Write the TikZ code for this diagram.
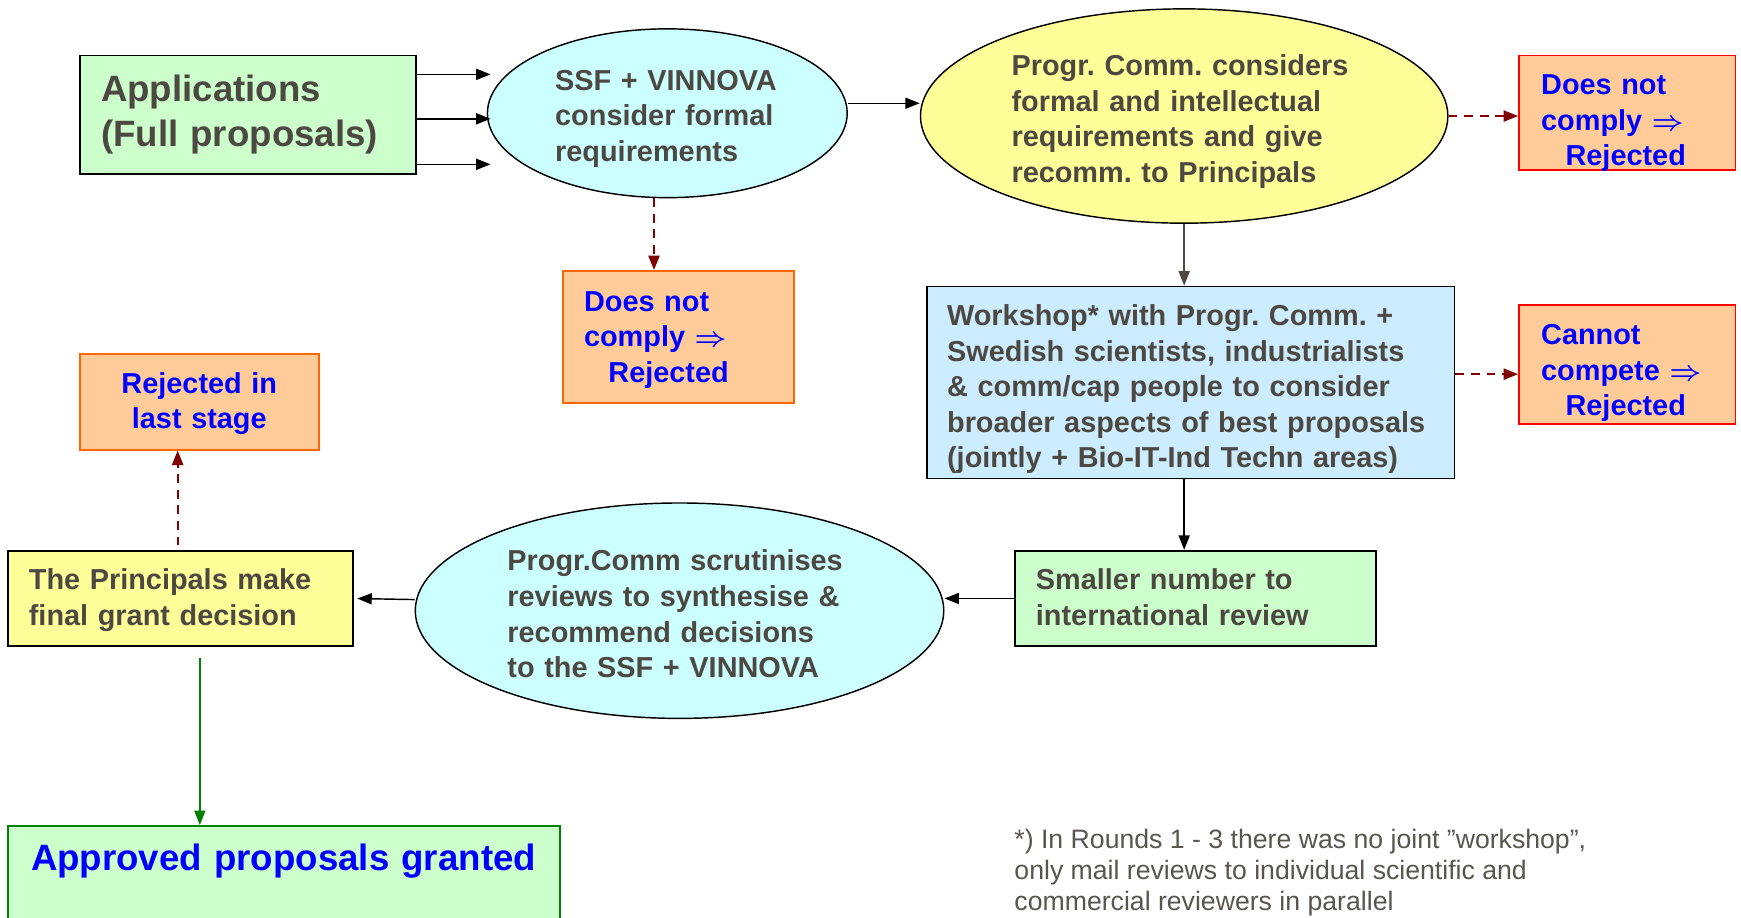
\documentclass[tikz,border=0pt]{standalone}
\usepackage{fontspec}
\setmainfont{Liberation Sans}
\usetikzlibrary{shapes,arrows.meta,calc}
\definecolor{ink}{RGB}{77,73,66}
\definecolor{note}{RGB}{89,85,80}
\definecolor{mint}{HTML}{CCFFCC}
\definecolor{aqua}{HTML}{CCFFFF}
\definecolor{lemon}{HTML}{FFFF99}
\definecolor{sky}{HTML}{CCECFF}
\definecolor{peach}{HTML}{FFCC99}
\definecolor{tangerine}{HTML}{FF6600}
\definecolor{maroon}{HTML}{800000}
\definecolor{leaf}{HTML}{008000}
\tikzstyle{bt} = [rectangle, draw, line width=1.6pt, text=ink, align=left,
    inner xsep=19pt, inner ysep=4pt, text height=25pt,
    font=\bfseries\fontsize{26}{32}\selectfont]
\tikzstyle{el} = [ellipse, draw, line width=1.3pt, fill=aqua, text=ink, align=left,
    inner sep=4pt, text height=25pt, font=\bfseries\fontsize{26}{32}\selectfont]
\tikzstyle{rej} = [bt, fill=peach, draw=red, text=blue,
    font=\bfseries\boldmath\fontsize{26}{32}\selectfont]
\tikzstyle{skip} = [->, maroon, line width=1.8pt, dash pattern=on 8pt off 6pt]

\begin{document}
\frenchspacing
\begin{tikzpicture}[x=1pt,y=1pt,>={Triangle[length=13pt,width=10pt]},line width=1.3pt]
  \useasboundingbox (0,0) rectangle (1568,-826);

  \node[bt, fill=mint, text width=265pt, minimum height=107pt, text height=30pt, text depth=54.8pt,
        font=\bfseries\fontsize{33}{41}\selectfont] (1) at (223.5,-103.5) {Applications\\(Full proposals)};
  \node[el, minimum width=324pt, minimum height=152pt, text width=202pt, text depth=66.5pt] (2) at (601,-102)
        {SSF + VINNOVA\\consider formal\\requirements};
  \node[el, fill=lemon, minimum width=475pt, minimum height=193pt, text width=311pt, text depth=97.5pt] (3)
        at (1066.5,-104.5) {Progr. Comm. considers\\formal and intellectual\\requirements and give\\recomm. to Principals};
  \node[rej, text width=155pt, minimum height=103pt, inner xsep=20pt, text depth=57.5pt] (4) at (1465.5,-101.5)
        {Does not\\comply $\Rightarrow$\\\hspace*{22pt}Rejected};
  \node[bt, fill=sky, text width=439pt, inner xsep=18pt, minimum height=173pt, text depth=127.5pt] (5)
        at (1072.5,-344.5) {Workshop* with Progr. Comm. +\\Swedish scientists, industrialists\\\& comm/cap people to consider\\broader aspects of best proposals\\(jointly + Bio-IT-Ind Techn areas)};
  \node[rej, text width=155pt, minimum height=107pt, inner xsep=20pt, text depth=61.5pt] (6) at (1465.5,-328.5)
        {Cannot\\compete $\Rightarrow$\\\hspace*{22pt}Rejected};
  \node[bt, fill=mint, text width=287pt, minimum height=86pt, text depth=40.5pt] (7) at (1076.5,-539)
        {Smaller number to\\international review};
  \node[el, minimum width=476pt, minimum height=194pt, text width=310pt, text depth=96.5pt] (8) at (612,-550)
        {Progr.Comm scrutinises\\reviews to synthesise \&\\recommend decisions\\to the SSF + VINNOVA};
  \node[bt, fill=lemon, text width=273pt, minimum height=86pt, text depth=40.5pt] (9) at (162.5,-539)
        {The Principals make\\final grant decision};
  \node[rej, draw=tangerine, text width=177pt, minimum height=86pt, align=center, text depth=40.5pt] (10)
        at (179.5,-362) {Rejected in\\last stage};
  \node[rej, draw=tangerine, text width=170pt, minimum height=119pt, text depth=71.5pt] (11) at (611,-303.5)
        {Does not\\comply $\Rightarrow$\\\hspace*{22pt}Rejected};
  \node[bt, fill=mint, draw=leaf, text=blue, anchor=north, text width=455pt, inner xsep=21pt,
        inner ysep=12pt, text height=28pt, text depth=80pt,
        font=\bfseries\fontsize{33}{41}\selectfont] (12) at (255.5,-743) {Approved proposals granted};
  \node[text=note, font=\fontsize{24}{28}\selectfont, align=left, anchor=north west, inner sep=0pt] (13)
        at (913,-746) {*) In Rounds 1 - 3 there was no joint ”workshop”,\\only mail reviews to individual scientific and\\commercial reviewers in parallel};

  \foreach \dy in {36.5,-3.5,-44.5}
    \draw[->] ([yshift=\dy pt]1.east) -- ++(66,0);
  \path ([yshift=9pt]2.east) edge[->] ([yshift=11.5pt]3.west)
        (3.south) edge[->, ink] (3.south |- 5.north)
        (3.south |- 5.south) edge[->] (3.south |- 7.north)
        (7.west) edge[->] (7.west -| 8.east)
        ([yshift=10pt]8.west) edge[->, shorten >=3pt] (9.east);

  \draw[skip] (3.east) -- (3.east -| 4.west);
  \draw[skip] ([yshift=7.5pt]5.east) -- ([yshift=-8.5pt]6.west);
  \draw[skip] ([xshift=-12pt]2.south) -- ([xshift=-22pt]11.north);
  \draw[skip] ([xshift=-2.5pt,yshift=4pt]9.north) -- ([xshift=-19.5pt]10.south);
  \draw[->, leaf] ([xshift=17.5pt,yshift=-10pt]9.south) -- ([xshift=-75.5pt]12.north);
\end{tikzpicture}
\end{document}
